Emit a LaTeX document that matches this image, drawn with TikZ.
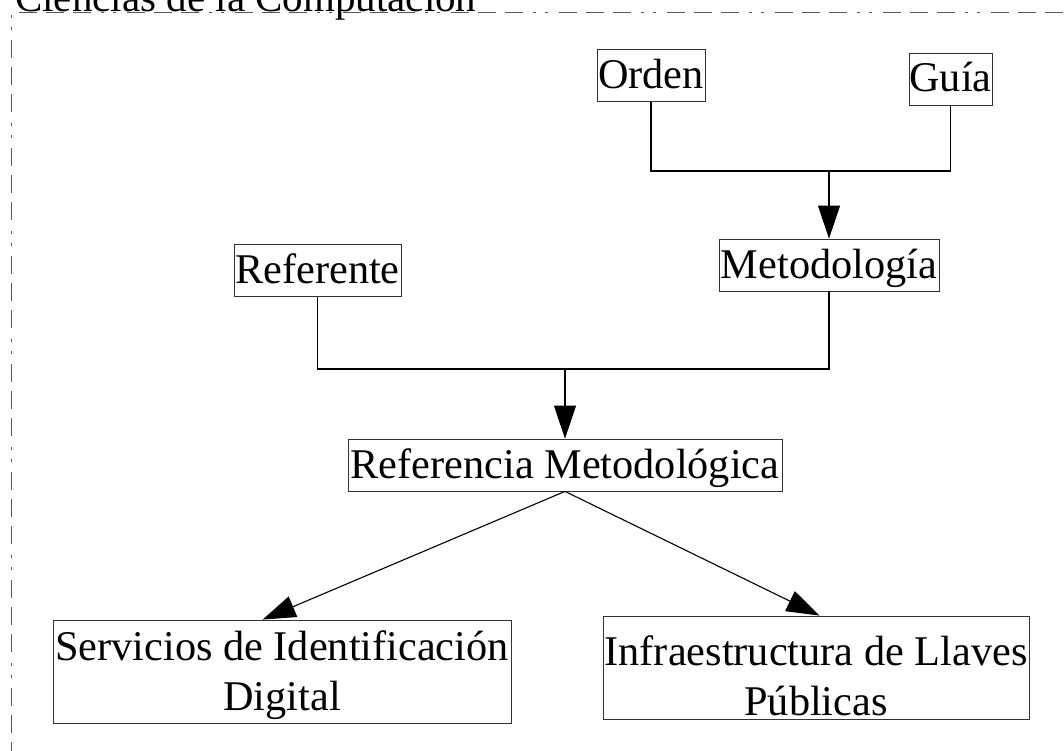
\documentclass[tikz,border=0pt]{standalone}
\usepackage{fontspec}
\setmainfont{Liberation Serif}
\usetikzlibrary{arrows.meta,calc}
\newcommand{\twolines}[2]{\begin{tabular}[t]{@{}c@{}}#1\\#2\end{tabular}}
\begin{document}
\begin{tikzpicture}[x=1pt,y=-1pt,
  box/.style={draw=black!80, line width=0.8pt, inner sep=0pt,
    text height=39pt, text depth=13pt,
    font=\fontsize{42.3}{50}\selectfont},
  link/.style={draw=black, line width=1.1pt},
  arr/.style={link, -{Triangle[length=33pt,width=22pt]}},
  framestyle/.style={draw=black!65, line width=0.9pt,
    dash pattern=on 18pt off 9pt on 18pt off 9pt on 18pt off 10pt on 3pt off 9pt on 3pt off 11pt}]
\useasboundingbox (0,0) rectangle (1064,751);

% enclosing frame and its caption
\coordinate (fbl) at (11,760);
\coordinate (ftl) at (11,12);
\coordinate (ftr) at (1070,12);
\draw[framestyle] (fbl) -- (ftl) -- (ftr);
\node[anchor=base west, inner sep=0pt, font=\fontsize{41}{48}\selectfont]
  (title) at (15,12) {Ciencias de la Computación};

% concept boxes
\node[box, minimum width=108pt] (orden) at (651,75.5) {Orden};
\node[box, minimum width=83pt] (guia) at (950.5,79) {Guía};
\node[box, minimum width=220pt] (metod) at (829,265) {Metodología};
\node[box, minimum width=167pt] (refe) at (317.5,270.5) {Referente};
\node[box, minimum width=434pt] (refmet) at (565,465) {Referencia Metodológica};
\node[box, minimum width=458pt, text height=40pt, text depth=63pt]
  (serv) at (282,671.5) {\twolines{Servicios de Identificación}{Digital}};
\node[box, minimum width=426pt, text height=49pt, text depth=54pt]
  (infra) at (816,667.5) {\twolines{Infraestructura de Llaves}{Públicas}};

% junctions of the merging connectors
\coordinate (j1) at (829,171);
\coordinate (j2) at (565,369);
\coordinate (servtip) at ($(serv.north west)+(210,0)$);
\coordinate (infratip) at ($(infra.north west)+(217,0)$);

% Orden + Guía -> Metodología
\draw[link] (orden.south) |- (j1);
\draw[link] (guia.south) |- (j1);
\draw[arr] (j1) -- (metod.north);

% Referente + Metodología -> Referencia Metodológica
\draw[link] (refe.south) |- (j2);
\draw[link] (metod.south) |- (j2);
\draw[arr] (j2) -- (refmet.north);

% Referencia Metodológica -> applications
\draw[arr] (refmet.south) -- (servtip);
\draw[arr] (refmet.south) -- (infratip);
\end{tikzpicture}
\end{document}
